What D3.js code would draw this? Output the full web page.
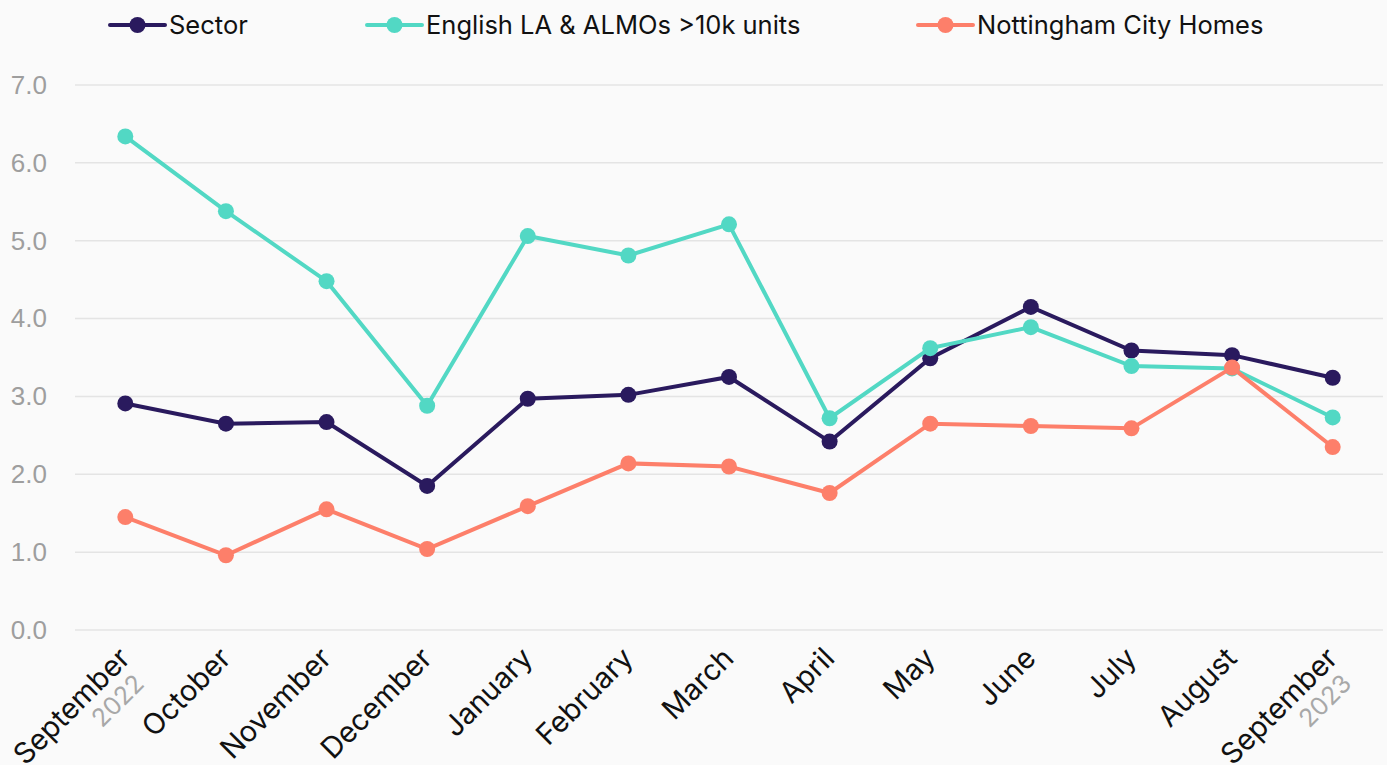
<html>

<head>
    <style>
        html,
        body {
            margin: 0;
            background-color: #fafafa;
            font-family: "Inter", "DejaVu Sans", sans-serif;
        }

        svg {
            display: block;
        }

        .grid line {
            stroke: #e4e4e4;
            stroke-width: 1.5;
        }

        .yAxis text {
            fill: #9e9e9e;
            font-size: 26px;
        }

        .xAxis text {
            fill: #111111;
            font-size: 29px;
        }

        .xAxis .year {
            fill: #a8a8a8;
            font-size: 25px;
        }

        .legend text {
            fill: #111111;
            font-size: 25.5px;
        }
    </style>
</head>

<body>
    <div id="chart"></div>
</body>

</html>

<script src="https://d3js.org/d3.v7.min.js"></script>

<script>
    // months along the x axis, years shown under first and last
    var months = ["September", "October", "November", "December", "January", "February",
        "March", "April", "May", "June", "July", "August", "September"];
    var years = ["2022", "", "", "", "", "", "", "", "", "", "", "", "2023"];

    var yTicks = [0, 1, 2, 3, 4, 5, 6, 7];

    var seriesNames = ["Sector", "English LA & ALMOs >10k units", "Nottingham City Homes"];
    var seriesColors = ["#2a1a5e", "#52d8c4", "#fd7f6a"];

    var sector = [2.91, 2.65, 2.67, 1.85, 2.97, 3.02, 3.25, 2.42, 3.49, 4.15, 3.59, 3.53, 3.24];
    var english = [6.34, 5.38, 4.48, 2.88, 5.06, 4.81, 5.21, 2.72, 3.62, 3.89, 3.39, 3.36, 2.73];
    var nottingham = [1.45, 0.96, 1.55, 1.04, 1.59, 2.14, 2.10, 1.76, 2.65, 2.62, 2.59, 3.37, 2.35];

    var seriesValues = [sector, english, nottingham];

    // establishing variables
    var width = 1387,
        height = 765,
        plotLeft = 75,
        plotRight = 1383,
        plotTop = 85,
        plotBottom = 630;

    var svg = d3.select("#chart").append("svg")
        .attr("width", width)
        .attr("height", height);

    // scaling (index based so the two Septembers stay apart)
    var xscale = d3.scalePoint()
        .domain(d3.range(months.length))
        .range([plotLeft, plotRight])
        .padding(0.5);

    var yscale = d3.scaleLinear()
        .domain([0, 7])
        .range([plotBottom, plotTop]);

    // gridlines
    svg.append("g")
        .attr("class", "grid")
        .selectAll("line")
        .data(yTicks)
        .enter().append("line")
        .attr("x1", plotLeft)
        .attr("x2", plotRight)
        .attr("y1", d => yscale(d))
        .attr("y2", d => yscale(d));

    // Y axis
    var y_axis = d3.axisLeft(yscale)
        .tickValues(yTicks)
        .tickFormat(d3.format(".1f"))
        .tickSize(0)
        .tickPadding(28);
    svg.append("g")
        .attr("class", "yAxis")
        .attr("transform", "translate(" + plotLeft + ",0)")
        .attr("font-family", null)
        .attr("font-size", null)
        .call(y_axis)
        .call(g => g.select(".domain").remove());

    // X axis
    var x_axis = d3.axisBottom(xscale)
        .tickSize(0)
        .tickFormat(i => months[i]);
    var xg = svg.append("g")
        .attr("class", "xAxis")
        .attr("transform", "translate(0," + plotBottom + ")")
        .call(x_axis)
        .attr("font-family", null)
        .attr("font-size", null);
    xg.select(".domain").remove();
    xg.selectAll("text")
        .attr("y", 0)
        .attr("dy", 0)
        .style("text-anchor", "end")
        .attr("transform", "translate(6,30) rotate(-45)")
        .each(function (i) {
            if (years[i]) {
                d3.select(this).append("tspan")
                    .attr("class", "year")
                    .attr("x", -8)
                    .attr("dy", "1.1em")
                    .text(years[i]);
            }
        });

    // lines and points
    var line = d3.line()
        .x((d, i) => xscale(i))
        .y(d => yscale(d));

    seriesValues.forEach(function (vals, s) {
        svg.append("path")
            .datum(vals)
            .attr("fill", "none")
            .attr("stroke", seriesColors[s])
            .attr("stroke-width", 4)
            .attr("d", line);

        svg.selectAll(".dot" + s)
            .data(vals)
            .enter().append("circle")
            .attr("class", "dot" + s)
            .attr("cx", (d, i) => xscale(i))
            .attr("cy", d => yscale(d))
            .attr("r", 8)
            .attr("fill", seriesColors[s]);
    });

    // legend
    var legendX = [110, 367, 918];
    var legend = svg.append("g")
        .attr("class", "legend")
        .selectAll("g")
        .data(seriesNames)
        .enter().append("g")
        .attr("transform", (d, i) => "translate(" + legendX[i] + ",25)");

    legend.append("line")
        .attr("x1", 0)
        .attr("x2", 55)
        .attr("stroke", (d, i) => seriesColors[i])
        .attr("stroke-width", 4)
        .attr("stroke-linecap", "round");

    legend.append("circle")
        .attr("cx", 27.5)
        .attr("r", 8)
        .attr("fill", (d, i) => seriesColors[i]);

    legend.append("text")
        .attr("x", 59)
        .attr("dy", "0.35em")
        .text(d => d);
</script>
